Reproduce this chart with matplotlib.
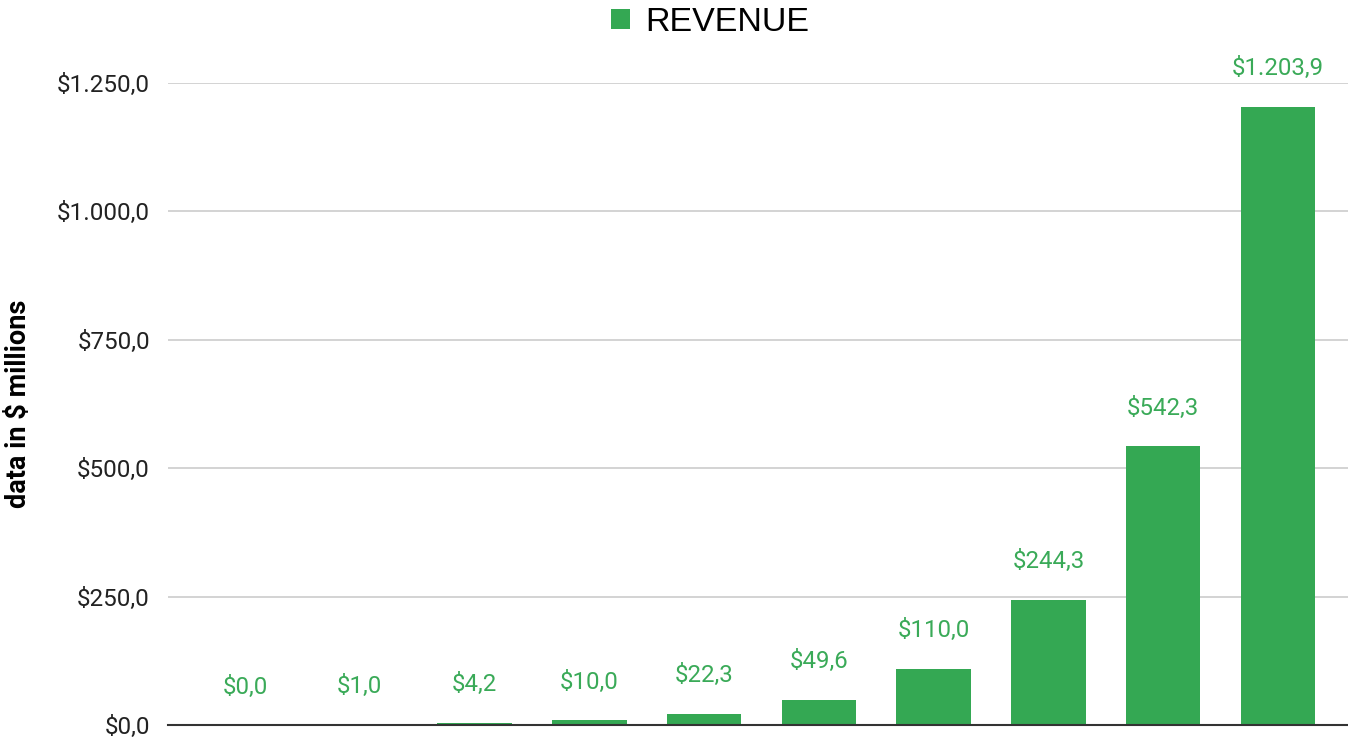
import matplotlib
matplotlib.use("Agg")
import matplotlib.pyplot as plt
from matplotlib.patches import Patch

# values ($ millions)
categories = ["1", "2", "3", "4", "5", "6", "7", "8", "9", "10"]
revenue = [0.0, 1.0, 4.2, 10.0, 22.3, 49.6, 110.0, 244.3, 542.3, 1203.9]
y_ticks = [0, 250, 500, 750, 1000, 1250]

GREEN = "#34a853"
plt.rcParams["font.family"] = ["Roboto", "DejaVu Sans"]


def money(v):
    # European style: dot for thousands, comma for decimals
    s = f"{v:,.1f}"
    s = s.replace(",", "X").replace(".", ",").replace("X", ".")
    return "$" + s


fig = plt.figure(figsize=(13.48, 7.38), dpi=100)
ax = fig.add_axes([168 / 1348, 13 / 738, 1180 / 1348, 642 / 738])

x = list(range(len(categories)))
bars = ax.bar(x, revenue, width=0.65, color=GREEN, zorder=3)

for xi, v in zip(x, revenue):
    ax.annotate(money(v), (xi, v), xytext=(0, 19), textcoords="offset points",
                ha="center", va="bottom", color="#3aaa58", fontsize=17.3,
                annotation_clip=False)

ax.set_xlim(-0.67, 9.61)
ax.set_ylim(0, 1250)
ax.set_yticks(y_ticks)
ax.set_yticklabels([money(t) for t in y_ticks], fontsize=17.5, color="#222222")
ax.set_xticks([])
ax.grid(axis="y", color="#cccccc", linewidth=1.2, zorder=0)
ax.tick_params(axis="y", length=0, pad=13)
for side in ["top", "right", "left"]:
    ax.spines[side].set_visible(False)
ax.spines["bottom"].set_color("#333333")
ax.spines["bottom"].set_linewidth(1.5)
ax.spines["bottom"].set_zorder(4)

ax.set_ylabel("data in $ millions", fontsize=19.5, fontweight="bold", labelpad=18)

fig.legend(handles=[Patch(facecolor=GREEN, label="REVENUE")], loc="upper center",
           bbox_to_anchor=(0.527, 1.032), frameon=False,
           prop={"family": ["Liberation Sans", "DejaVu Sans"], "size": 24.5},
           handlelength=0.55, handleheight=0.55, handletextpad=0.45)

fig.savefig("out.png", dpi=100)
